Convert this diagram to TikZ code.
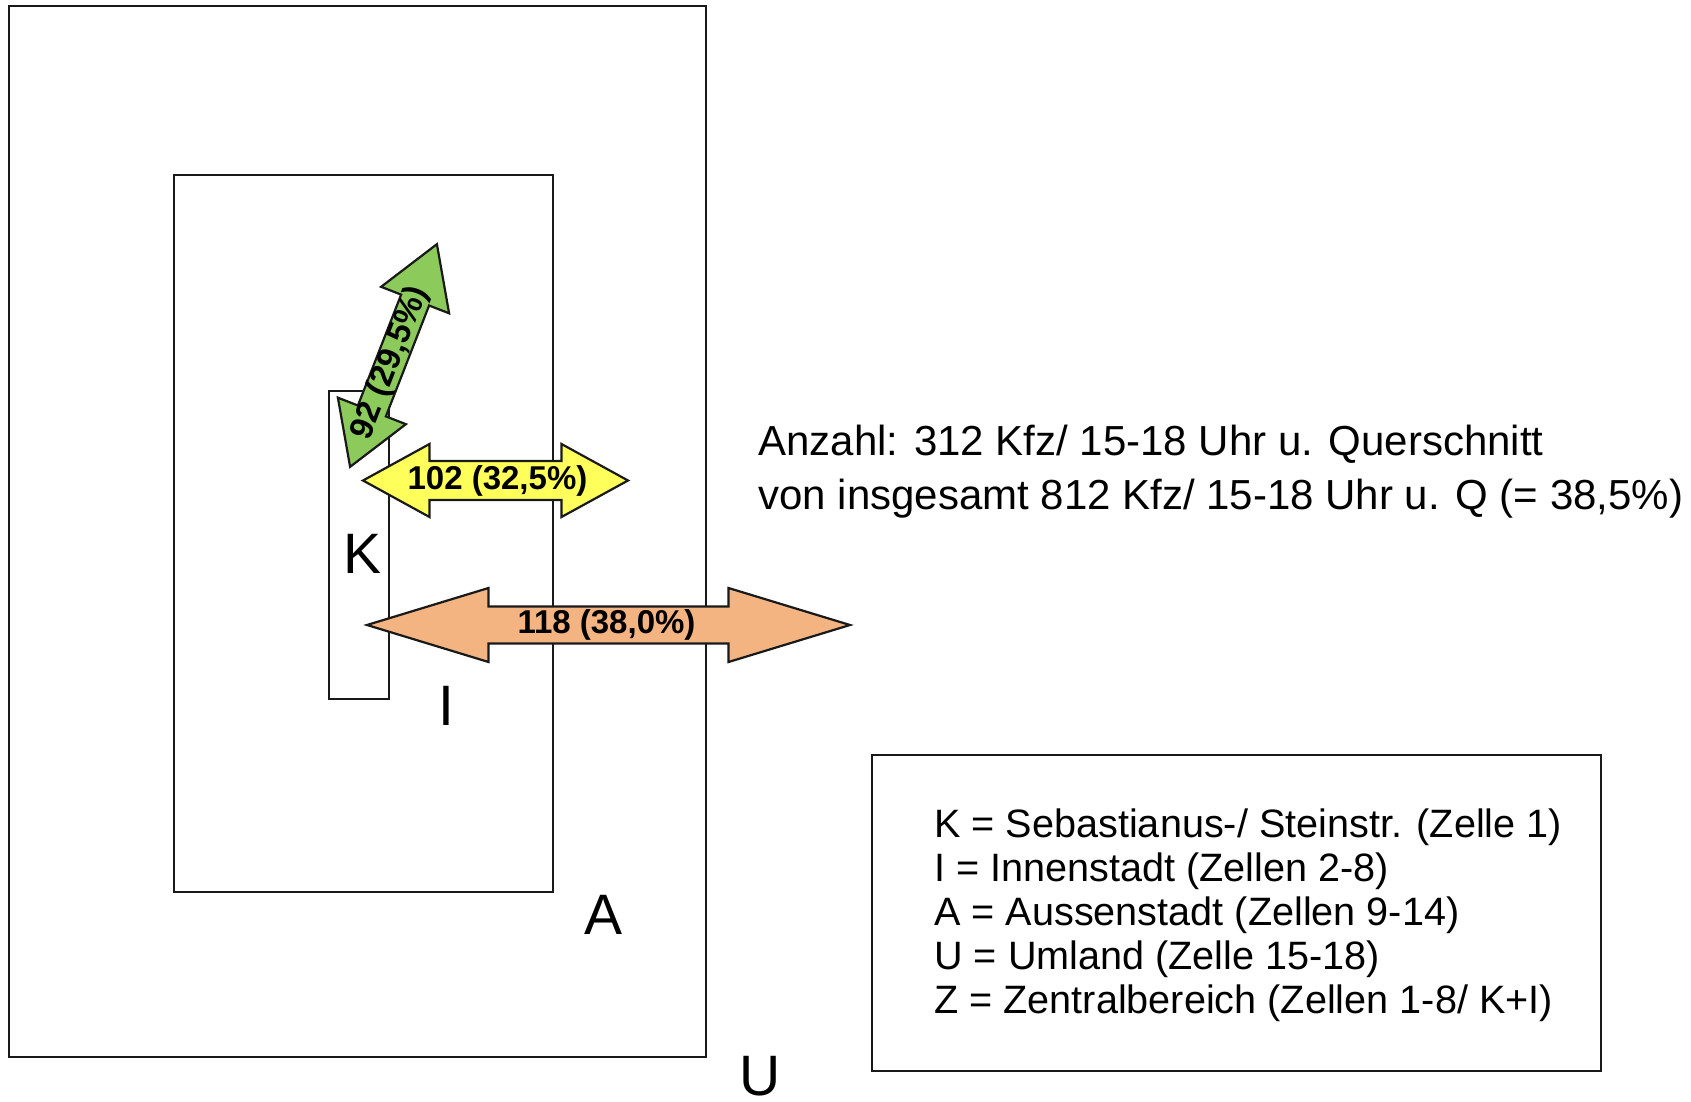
\documentclass[tikz,border=0pt]{standalone}
\usepackage{fontspec}
\setmainfont{Liberation Sans}
\usetikzlibrary{positioning}

\definecolor{arrowgreen}{RGB}{140,202,92}
\definecolor{arrowyellow}{RGB}{255,255,92}
\definecolor{arroworange}{RGB}{244,180,130}

% double arrow along local x: half length, head length, half head width, half shaft width
\newcommand{\dblarrow}[4]{%
  (-#1,0) -- (-#1+#2,-#3) -- (-#1+#2,-#4) -- (#1-#2,-#4) -- (#1-#2,-#3) --
  (#1,0) -- (#1-#2,#3) -- (#1-#2,#4) -- (-#1+#2,#4) -- (-#1+#2,#3) -- cycle}

\begin{document}
\begin{tikzpicture}[
  x=0.5pt, y=-0.5pt,
  zone/.style={draw=black!90, line width=1.4pt},
  flow/.style={draw=black!90, line width=1.1pt, line join=miter},
  flowlabel/.style={font=\fontsize{16.5}{18}\selectfont\bfseries, inner sep=0pt},
  zonelabel/.style={font=\fontsize{28.5}{30}\selectfont, inner sep=0pt},
  note/.style={font=\fontsize{21}{27}\selectfont, align=left, inner sep=0pt},
  legend/.style={font=\fontsize{19.8}{22}\selectfont, align=left, inner sep=0pt},
]
\useasboundingbox (0,0) rectangle (1691,1102);

% ---- Zonen ----
\draw[zone] (9,6)     rectangle (706,1057);  % U
\draw[zone] (174,175) rectangle (553,892);   % I
\draw[zone] (329,391) rectangle (389,699);   % K
\draw[zone] (872,755) rectangle (1601,1071); % Legende

% ---- Zonenbuchstaben ----
\node[zonelabel] (lbl-k) at (363,554)  {K};
\node[zonelabel] (lbl-i) at (446,706)  {I};
\node[zonelabel] (lbl-a) at (604,915)  {A};
\node[zonelabel] (lbl-u) at (760,1076) {U};

% ---- Verkehrsstroeme ----
\begin{scope}[shift={(393.5,355.5)}, rotate=68.7]
  \draw[flow, fill=arrowgreen] \dblarrow{119.5}{60}{36.5}{15};
  \node[flowlabel, transform shape] (flow-green) at (-8,0) {92 (29,5\%)};
\end{scope}

\begin{scope}[shift={(495.5,480.5)}]
  \draw[flow, fill=arrowyellow] \dblarrow{132.5}{66.5}{36.5}{19.5};
  \node[flowlabel] (flow-yellow) at (2,0) {102 (32,5\%)};
\end{scope}

\begin{scope}[shift={(608.5,625)}]
  \draw[flow, fill=arroworange] \dblarrow{241.5}{121.5}{37}{18.5};
  \node[flowlabel] (flow-orange) at (-2,0) {118 (38,0\%)};
\end{scope}

% ---- Texte ----
\node[note, anchor=west] (anzahl) at (758,472)
  {Anzahl: 312 Kfz/ 15-18 Uhr u. Querschnitt\\
   von insgesamt 812 Kfz/ 15-18 Uhr u. Q (= 38,5\%)};

\node[legend, anchor=west] (legend-text) at (934,915)
  {K = Sebastianus-/ Steinstr. (Zelle 1)\\
   I = Innenstadt (Zellen 2-8)\\
   A = Aussenstadt (Zellen 9-14)\\
   U = Umland (Zelle 15-18)\\
   Z = Zentralbereich (Zellen 1-8/ K+I)};

\end{tikzpicture}
\end{document}
